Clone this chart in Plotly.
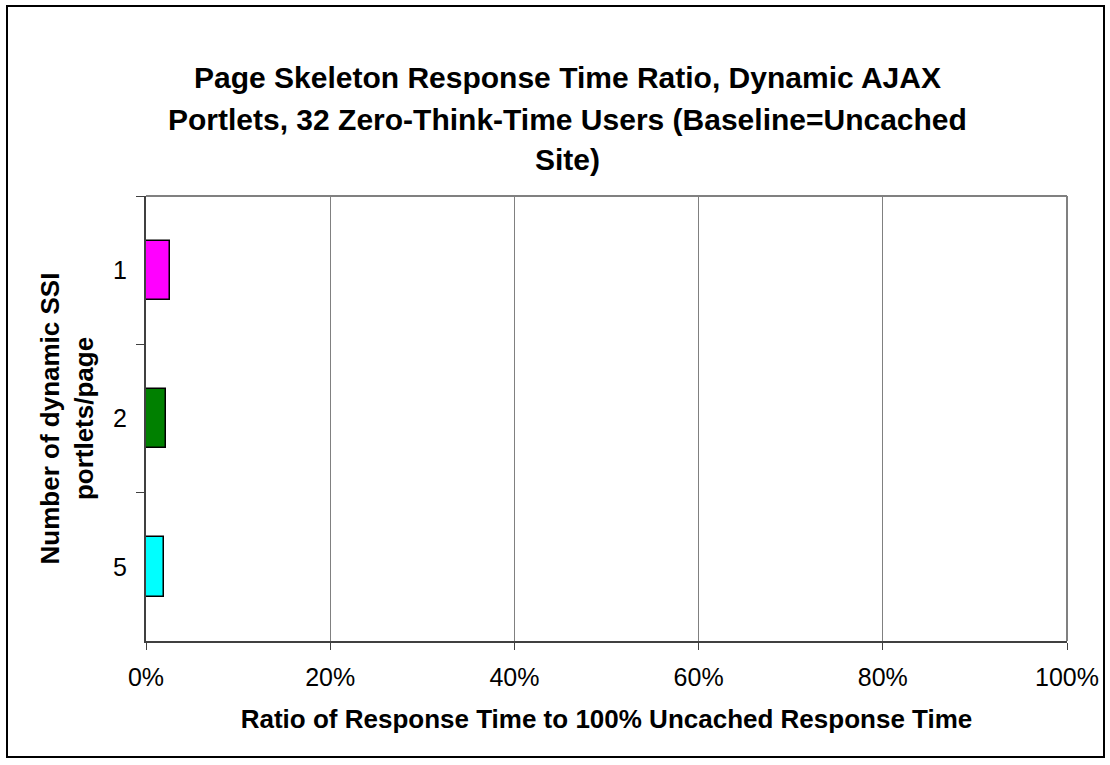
import plotly.graph_objects as go

categories = ["1", "2", "5"]
ratios = [0.026, 0.022, 0.019]
colors = ["#FF00FF", "#008000", "#00FFFF"]
x_ticks = [0, 0.2, 0.4, 0.6, 0.8, 1.0]
x_tick_labels = ["0%", "20%", "40%", "60%", "80%", "100%"]
title_lines = [
    "Page Skeleton Response Time Ratio, Dynamic AJAX",
    "Portlets, 32 Zero-Think-Time Users (Baseline=Uncached",
    "Site)",
]

FONT = "Liberation Sans, Arial, sans-serif"

fig = go.Figure()
fig.add_trace(go.Bar(
    y=categories, x=ratios, orientation="h",
    marker=dict(color=colors, line=dict(color="black", width=1.5)),
    width=0.4, showlegend=False,
))

L, R, T, B = 146, 43, 196, 124
W, H = 1110, 765
pw, ph = W - L - R, H - T - B

def px(x):
    return (x - L) / pw

def py(y):
    return (H - B - y) / ph

fig.update_layout(
    width=W, height=H,
    margin=dict(l=L, r=R, t=T, b=B),
    paper_bgcolor="white", plot_bgcolor="white",
    font=dict(family=FONT, color="black"),
    bargap=0,
    xaxis=dict(
        range=[0, 1], tickvals=x_ticks, ticktext=x_tick_labels,
        showgrid=True, gridcolor="#808080", gridwidth=1,
        showline=True, linecolor="#404040", linewidth=2,
        ticks="outside", ticklen=7, tickcolor="#404040", tickwidth=1,
        ticklabelstandoff=6,
        tickfont=dict(size=25, family=FONT),
        title=dict(text="<b>Ratio of Response Time to 100% Uncached Response Time</b>",
                   font=dict(size=26, family=FONT), standoff=20),
        zeroline=False,
    ),
    yaxis=dict(
        type="category", categoryorder="array", categoryarray=categories,
        autorange="reversed",
        showgrid=False,
        showline=True, linecolor="#404040", linewidth=2,
        ticks="outside", tickson="boundaries", ticklen=8, tickcolor="#404040", tickwidth=1,
        ticklabelstandoff=12,
        tickfont=dict(size=25, family=FONT),
        title=dict(text="<b>Number of dynamic SSI<br>portlets/page</b>",
                   font=dict(size=26, family=FONT), standoff=12),
    ),
)

# Title lines
for txt, yy in zip(title_lines, [77, 119, 160]):
    fig.add_annotation(
        text="<b>" + txt + "</b>", xref="paper", yref="paper",
        x=px(W / 2 + 12), y=py(yy), xanchor="center", yanchor="middle",
        showarrow=False, font=dict(size=30, family=FONT, color="black"),
    )

# plot area top/right border (gray)
fig.add_shape(type="line", xref="paper", yref="paper", x0=0, x1=1, y0=1, y1=1,
              line=dict(color="#808080", width=2))
fig.add_shape(type="line", xref="paper", yref="paper", x0=1, x1=1, y0=0, y1=1,
              line=dict(color="#808080", width=2))
# outer chart border
fig.add_shape(type="rect", xref="paper", yref="paper",
              x0=px(7), x1=px(1104), y0=py(757), y1=py(6),
              line=dict(color="black", width=2), fillcolor="rgba(0,0,0,0)")

fig.write_html("out.html")
